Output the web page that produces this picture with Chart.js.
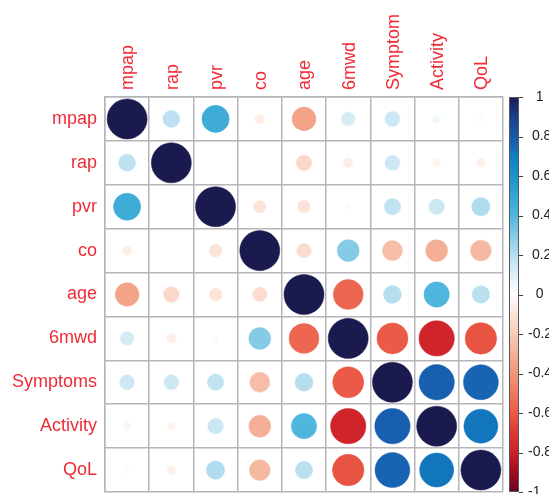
<!DOCTYPE html>
<html>
<head>
<meta charset="utf-8">
<script src="https://cdn.jsdelivr.net/npm/chart.js@4/dist/chart.umd.min.js"></script>
<style>
  html, body { margin: 0; padding: 0; background: #ffffff; }
  canvas { display: block; }
</style>
</head>
<body>
<canvas id="corr" width="549" height="494"></canvas>
<script>
// Variable names
const rowLabels = ['mpap', 'rap', 'pvr', 'co', 'age', '6mwd', 'Symptoms', 'Activity', 'QoL'];
const colLabels = ['mpap', 'rap', 'pvr', 'co', 'age', '6mwd', 'Symptom', 'Activity', 'QoL'];

// Correlation coefficients, one row per variable (null = not shown)
const mpapRow     = [1.00, 0.18, 0.46, -0.06, -0.35, 0.12, 0.14, 0.04, 0.02];
const rapRow      = [0.18, 1.00, null, null, -0.15, -0.06, 0.14, -0.04, -0.05];
const pvrRow      = [0.46, null, 1.00, -0.10, -0.10, -0.02, 0.17, 0.15, 0.21];
const coRow       = [-0.06, null, -0.10, 1.00, -0.13, 0.30, -0.25, -0.30, -0.27];
const ageRow      = [-0.35, -0.15, -0.10, -0.13, 1.00, -0.56, 0.20, 0.40, 0.19];
const walkRow     = [0.12, -0.06, -0.02, 0.30, -0.56, 1.00, -0.60, -0.78, -0.62];
const symptomsRow = [0.14, 0.14, 0.17, -0.25, 0.20, -0.60, 1.00, 0.78, 0.76];
const activityRow = [0.04, -0.04, 0.15, -0.30, 0.40, -0.78, 0.78, 1.00, 0.72];
const qolRow      = [0.02, -0.05, 0.21, -0.27, 0.19, -0.62, 0.76, 0.72, 1.00];

// Colour legend tick labels, bottom to top
const legendTicks = ['-1', '-0.8', '-0.6', '-0.4', '-0.2', '0', '0.2', '0.4', '0.6', '0.8', '1'];

const matrix = [mpapRow, rapRow, pvrRow, coRow, ageRow, walkRow, symptomsRow, activityRow, qolRow];

// Diverging palette: value -> colour
const palette = [
  [-1.0, '#67001f'], [-0.9, '#9f0d20'], [-0.8, '#cb2028'], [-0.7, '#de3a33'],
  [-0.6, '#eb5a46'], [-0.5, '#ee7960'], [-0.4, '#f19679'], [-0.3, '#f4b097'],
  [-0.2, '#f8cab7'], [-0.1, '#fce3d8'], [0.0, '#ffffff'], [0.1, '#ddeff7'],
  [0.2, '#b6deef'], [0.3, '#85cbe6'], [0.4, '#4fb6dd'], [0.5, '#35a6d4'],
  [0.6, '#1d93cc'], [0.7, '#0e80c2'], [0.75, '#1766b5'], [0.8, '#1a5aab'],
  [0.9, '#1a3e8c'], [1.0, '#1b1a4f']
];

function hexToRgb(h) {
  return [parseInt(h.slice(1, 3), 16), parseInt(h.slice(3, 5), 16), parseInt(h.slice(5, 7), 16)];
}
function colourFor(v) {
  for (let i = 0; i < palette.length - 1; i++) {
    const [a, ca] = palette[i];
    const [b, cb] = palette[i + 1];
    if (v >= a && v <= b) {
      const t = (v - a) / (b - a);
      const A = hexToRgb(ca), B = hexToRgb(cb);
      const c = A.map((x, k) => Math.round(x + (B[k] - x) * t));
      return `rgb(${c[0]},${c[1]},${c[2]})`;
    }
  }
  return palette[palette.length - 1][1];
}

const points = [];
matrix.forEach((row, r) => {
  row.forEach((v, c) => {
    if (v !== null) points.push({ x: colLabels[c], y: rowLabels[r], v: v });
  });
});

const gridColour = '#b6b6ba';
const labelRed = '#ef2b36';
const fontFamily = '"Liberation Sans", Arial, Helvetica, sans-serif';

function cellValue(ctx) {
  return ctx && ctx.raw && typeof ctx.raw.v === 'number' ? ctx.raw.v : 0;
}

// Cell size in pixels, refreshed after every layout pass
let cellSize = 44;
const cellTracker = {
  id: 'cellTracker',
  afterLayout(chart) {
    const a = chart.chartArea;
    cellSize = Math.min(a.right - a.left, a.bottom - a.top) / rowLabels.length;
  }
};

// Axes take exactly the room they are given, with no extra edge padding
function fixedBox(w, h) {
  return a => {
    if (w !== null) a.width = w;
    if (h !== null) a.height = h;
    a.paddingTop = 0; a.paddingBottom = 0; a.paddingLeft = 0; a.paddingRight = 0;
  };
}

// Legend labels padded like a right-justified numeric column
function legendLabel(i) {
  const s = legendTicks[i];
  if (s.startsWith('-')) return s;
  return (s.length === 1 ? '  ' : ' ') + s;
}

// Colour legend drawn beside the matrix, positioned from the y2 scale
const colourLegend = {
  id: 'colourLegend',
  afterDraw(chart) {
    const ctx = chart.ctx;
    const s = chart.scales.y2;
    const top = s.getPixelForValue(1);
    const bottom = s.getPixelForValue(-1);
    const x0 = s.left + 6, w = 10;
    const grad = ctx.createLinearGradient(0, bottom, 0, top);
    palette.forEach(([v, c]) => grad.addColorStop((v + 1) / 2, c));
    ctx.save();
    ctx.fillStyle = grad;
    ctx.fillRect(x0, top, w, bottom - top);
    ctx.strokeStyle = '#55555a';
    ctx.lineWidth = 1;
    ctx.strokeRect(x0 + 0.5, top + 0.5, w - 1, bottom - top - 1);
    ctx.strokeStyle = '#444';
    s.ticks.forEach(t => {
      const y = Math.round(s.getPixelForValue(t.value)) + 0.5;
      ctx.beginPath();
      ctx.moveTo(x0 + w, y);
      ctx.lineTo(x0 + w + 4, y);
      ctx.stroke();
    });
    ctx.restore();
  }
};

new Chart(document.getElementById('corr'), {
  type: 'bubble',
  data: {
    datasets: [{
      data: points,
      radius: ctx => 0.455 * cellSize * Math.sqrt(Math.abs(cellValue(ctx))),
      backgroundColor: ctx => colourFor(cellValue(ctx)),
      borderColor: ctx => colourFor(cellValue(ctx)),
      borderWidth: 0.5,
      clip: false
    }]
  },
  options: {
    responsive: false,
    devicePixelRatio: 1,
    animation: false,
    events: [],
    layout: { autoPadding: false, padding: { top: 0, bottom: 2, left: 0, right: 0 } },
    plugins: { legend: { display: false }, tooltip: { enabled: false } },
    scales: {
      x: {
        type: 'category',
        labels: colLabels,
        position: 'top',
        offset: true,
        grid: { offset: true, color: gridColour, lineWidth: 1.5, drawTicks: false },
        border: { display: true, color: gridColour, width: 1.5 },
        ticks: {
          autoSkip: false, minRotation: 90, maxRotation: 90,
          color: labelRed, padding: 7, labelOffset: 23,
          font: { family: fontFamily, size: 18 }
        },
        afterFit: fixedBox(null, 97)
      },
      y: {
        type: 'category',
        labels: rowLabels,
        position: 'left',
        offset: true,
        grid: { offset: true, color: gridColour, lineWidth: 1.5, drawTicks: false },
        border: { display: true, color: gridColour, width: 1.5 },
        ticks: {
          autoSkip: false, color: labelRed, padding: 8,
          font: { family: fontFamily, size: 18 }
        },
        afterFit: fixedBox(105, null)
      },
      y2: {
        type: 'linear',
        position: 'right',
        min: -1, max: 1,
        grid: { drawOnChartArea: false, drawTicks: false },
        border: { display: false },
        ticks: {
          stepSize: 0.2,
          padding: 25,
          color: '#222',
          font: { family: fontFamily, size: 14 },
          callback: (v, i) => legendLabel(i)
        },
        afterFit: fixedBox(46, null)
      }
    }
  },
  plugins: [cellTracker, colourLegend]
});
</script>
</body>
</html>
